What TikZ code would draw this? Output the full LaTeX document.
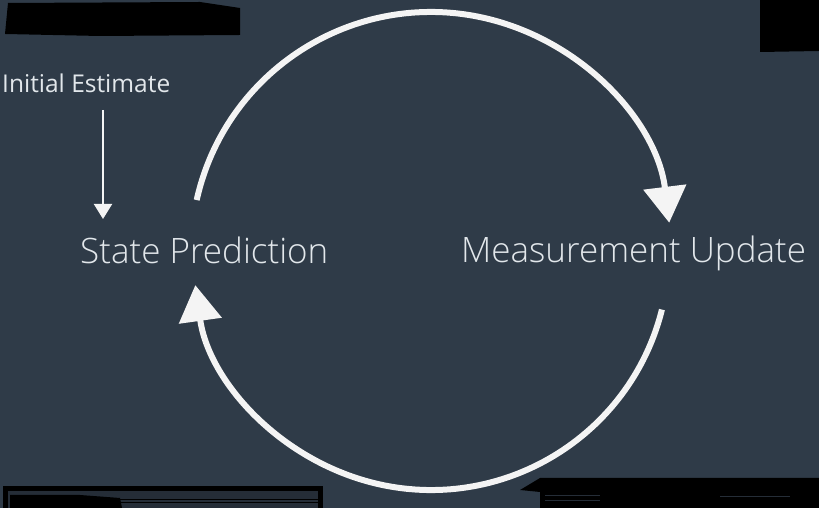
\documentclass[tikz,border=0pt]{standalone}
\usepackage{fontspec}
\setmainfont{Open Sans}[UprightFont={* Light}]
\newfontfamily\regularsans{Open Sans}
\usetikzlibrary{arrows.meta,calc}
\definecolor{slate}{HTML}{2F3B48}
\definecolor{slatebot}{HTML}{252D37}
\definecolor{labelgray}{HTML}{E2E7EB}
\definecolor{ringwhite}{HTML}{F4F4F4}
% slate backdrop, darker towards the top and bottom edges
\pgfdeclareverticalshading{backdrop}{100bp}{
  color(0bp)=(slatebot); color(12bp)=(slate); color(88bp)=(slate); color(100bp)=(black!35!slate)}
\tikzset{
  label text/.style={text=labelgray, inner sep=0pt, font=\fontsize{35}{35}\selectfont},
  small label/.style={text=labelgray, inner sep=0pt, font=\regularsans\fontsize{24.5}{24.5}\selectfont},
  ring arrow/.style={draw=ringwhite, line width=6pt, -{Triangle[width=42pt,length=36pt]}},
  feed arrow/.style={draw=ringwhite, line width=2pt, -{Triangle[width=18pt,length=15pt]}},
  blackout/.style={fill=black, draw=none}
}
\begin{document}
\begin{tikzpicture}[x=1pt,y=1pt]
  % background
  \shade[shading=backdrop] (0,0) rectangle (819,508);
  \useasboundingbox (0,0) rectangle (819,508);

  % labels
  \node[small label, anchor=base west] (init) at (2,415) {Initial Estimate};
  \node[label text, anchor=base west] (sp) at (80,244) {State Prediction};
  \node[label text, anchor=base west] (mu) at (461,245) {Measurement Update};

  % initial estimate feeds the prediction
  \coordinate (ie-start) at (103,398);
  \coordinate (ie-end) at (103,289);
  \draw[feed arrow] (ie-start) -- (ie-end);

  % predict / update cycle
  \coordinate (c) at (431,256);
  \coordinate (pred-out) at ($(c)+(167.5:240)$);
  \coordinate (upd-out) at ($(c)+(-14:238)$);
  \draw[ring arrow] (pred-out) arc[start angle=167.5, end angle=7, radius=240];
  \draw[ring arrow] (upd-out) arc[start angle=-14, end angle=-172, radius=238];

  % blacked-out corners
  \fill[blackout] (5,474) -- (100,472) -- (240,473) -- (240,500) -- (200,506) -- (8,505) -- cycle;
  \fill[blackout] (760,456) -- (819,457) -- (819,508) -- (760,508) -- cycle;
  \fill[blackout] (3,0) rectangle (323,22);
  \fill[slatebot] (8,0) rectangle (318,17);
  \fill[blackout] (10,0) -- (10,13) -- (80,13) -- (120,10) -- (122,0) -- cycle;
  \draw[black, line width=0.8pt] (115,9) -- (318,9);
  \draw[black, line width=0.8pt] (115,6) -- (318,6);
  \fill[blackout] (520,18) -- (540,30) -- (819,30) -- (819,0) -- (540,0) -- (540,16) -- cycle;
  \draw[slatebot, line width=0.8pt] (545,13) -- (600,13);
  \draw[slatebot, line width=0.8pt] (545,8) -- (600,8);
  \draw[slatebot, line width=0.8pt] (720,12) -- (790,12);
\end{tikzpicture}
\end{document}
